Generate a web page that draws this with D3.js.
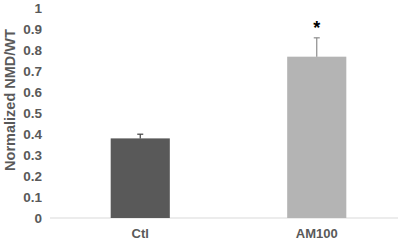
<!DOCTYPE html>
<html>
<head>
<meta charset="utf-8">
<script src="https://cdn.jsdelivr.net/npm/d3@7"></script>
<style>
  body { margin: 0; background: #fff; }
  svg { display: block; font-family: "Liberation Sans", Arial, sans-serif; }
</style>
</head>
<body>
<div id="viz"></div>
<script>
const groups = ['Ctl', 'AM100'];
const means = [0.38, 0.77];
const errors = [0.02, 0.09];
const marks = ['', '*'];
const yTicks = [0, 0.1, 0.2, 0.3, 0.4, 0.5, 0.6, 0.7, 0.8, 0.9, 1];
const barColors = ['#595959', '#b4b4b4'];
const errColors = ['#404040', '#8c8c8c'];

const W = 398, H = 241;
const svg = d3.select('#viz').append('svg')
  .attr('width', W).attr('height', H);

const x = d3.scaleBand().domain(groups).range([52, 405])
  .paddingInner(0.665).paddingOuter(0.3325);
const y = d3.scaleLinear().domain([0, 1]).range([218, 8.5]);

// y axis labels
const yAxis = svg.append('g')
  .attr('transform', 'translate(42,0)')
  .call(d3.axisLeft(y).tickValues(yTicks).tickSize(0).tickPadding(0)
    .tickFormat(d => d3.format('')(+d.toFixed(1))));
yAxis.select('.domain').remove();
yAxis.selectAll('text')
  .attr('font-size', '13.5px')
  .attr('font-weight', 'bold')
  .attr('fill', '#595959')
  .attr('font-family', '"Liberation Sans", Arial, sans-serif');

// baseline
svg.append('line')
  .attr('x1', 50).attr('x2', 398)
  .attr('y1', y(0)).attr('y2', y(0))
  .attr('stroke', '#d9d9d9').attr('stroke-width', 1);

// bars
svg.selectAll('rect.bar').data(groups).join('rect')
  .attr('class', 'bar')
  .attr('x', d => x(d))
  .attr('width', x.bandwidth())
  .attr('y', (d, i) => y(means[i]))
  .attr('height', (d, i) => y(0) - y(means[i]))
  .attr('fill', (d, i) => barColors[i]);

// error bars (upper only)
groups.forEach((g, i) => {
  const cx = x(g) + x.bandwidth() / 2;
  svg.append('line')
    .attr('x1', cx).attr('x2', cx)
    .attr('y1', y(means[i])).attr('y2', y(means[i] + errors[i]))
    .attr('stroke', errColors[i]).attr('stroke-width', 1.2);
  svg.append('line')
    .attr('x1', cx - 3).attr('x2', cx + 3)
    .attr('y1', y(means[i] + errors[i])).attr('y2', y(means[i] + errors[i]))
    .attr('stroke', errColors[i]).attr('stroke-width', 1.2);
  if (marks[i]) {
    svg.append('text')
      .attr('x', cx).attr('y', y(means[i] + errors[i]) - 4)
      .attr('text-anchor', 'middle')
      .attr('font-size', '18px')
      .attr('font-weight', 'bold')
      .attr('fill', '#000')
      .text(marks[i]);
  }
});

// category labels
svg.selectAll('text.cat').data(groups).join('text')
  .attr('class', 'cat')
  .attr('x', d => x(d) + x.bandwidth() / 2)
  .attr('y', 238)
  .attr('text-anchor', 'middle')
  .attr('font-size', '13px')
  .attr('font-weight', 'bold')
  .attr('fill', '#595959')
  .text(d => d);

// y title
svg.append('text')
  .attr('transform', 'translate(15,100) rotate(-90)')
  .attr('text-anchor', 'middle')
  .attr('font-size', '14.5px')
  .attr('font-weight', 'bold')
  .attr('fill', '#595959')
  .text('Normalized NMD/WT');
</script>
</body>
</html>
